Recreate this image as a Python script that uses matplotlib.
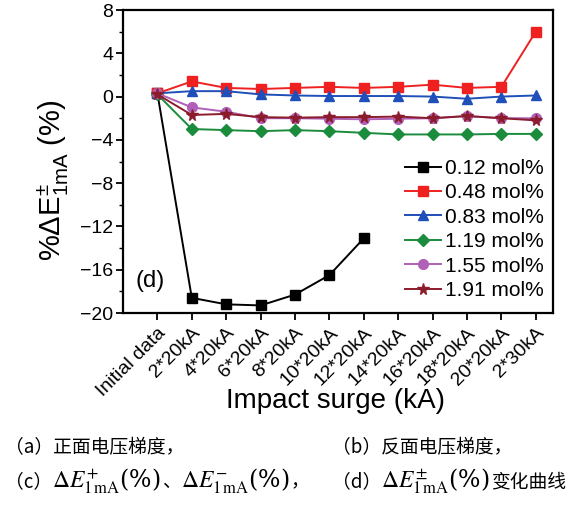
import matplotlib
matplotlib.use("Agg")
import matplotlib.pyplot as plt
import numpy as np
from matplotlib.ticker import MultipleLocator

plt.rcParams['font.family'] = ['Liberation Sans', 'DejaVu Sans']
plt.rcParams['mathtext.fontset'] = 'custom'
plt.rcParams['mathtext.rm'] = 'Liberation Sans'
plt.rcParams['mathtext.it'] = 'Liberation Sans:italic'
plt.rcParams['mathtext.bf'] = 'Liberation Sans:bold'

categories = ["Initial data", "2*20kA", "4*20kA", "6*20kA", "8*20kA", "10*20kA",
              "12*20kA", "14*20kA", "16*20kA", "18*20kA", "20*20kA", "2*30kA"]

s012 = [0.3, -18.6, -19.2, -19.3, -18.3, -16.5, -13.1]
s048 = [0.3, 1.4, 0.8, 0.7, 0.8, 0.9, 0.8, 0.9, 1.1, 0.8, 0.9, 6.0]
s083 = [0.3, 0.5, 0.5, 0.2, 0.1, 0.05, 0.05, 0.05, 0.0, -0.2, 0.0, 0.1]
s119 = [0.2, -3.0, -3.1, -3.2, -3.1, -3.2, -3.35, -3.5, -3.5, -3.5, -3.45, -3.45]
s155 = [0.3, -1.0, -1.4, -2.0, -2.0, -2.05, -2.1, -2.05, -2.0, -1.8, -2.0, -2.0]
s191 = [0.2, -1.7, -1.6, -1.9, -1.95, -1.9, -1.9, -1.85, -2.0, -1.8, -2.0, -2.2]

labels = ["0.12 mol%", "0.48 mol%", "0.83 mol%", "1.19 mol%", "1.55 mol%", "1.91 mol%"]
series = [s012, s048, s083, s119, s155, s191]
colors = ["#000000", "#ee2020", "#1f4fb8", "#1a8c3c", "#b060b8", "#8b1c2c"]
markers = ["s", "s", "^", "D", "o", "*"]
msizes = [6.5, 6.5, 7, 6, 7, 8.5]

W, H = 581, 509
fig = plt.figure(figsize=(W / 100, H / 100), dpi=100)
ax = fig.add_axes([123 / W, 1 - 313 / H, (553 - 123) / W, (313 - 10) / H])

for y, lab, c, m, ms in zip(series, labels, colors, markers, msizes):
    x = np.arange(len(y))
    ax.plot(x, y, color=c, marker=m, markersize=ms, linewidth=1.4, label=lab)

ax.set_xlim(-1, 11.5)
ax.set_ylim(-20, 8)
ax.set_xticks(np.arange(len(categories)))
ax.set_xticklabels(categories, rotation=45, ha='right', rotation_mode='anchor', fontsize=14)
ax.yaxis.set_major_locator(MultipleLocator(4))
ax.yaxis.set_minor_locator(MultipleLocator(2))
ax.tick_params(axis='y', which='major', direction='out', length=5, width=1.3, labelsize=14, pad=2)
ax.tick_params(axis='y', which='minor', direction='out', length=3, width=1.0)
ax.tick_params(axis='x', which='major', direction='out', length=5, width=1.3, pad=3)
for sp in ax.spines.values():
    sp.set_linewidth(1.6)

ax.set_xlabel("Impact surge (kA)", fontsize=20)
ax.xaxis.set_label_coords((335 - 123) / 430, (313 - 408) / 303)
ax.xaxis.label.set_va('baseline')
ax.set_ylabel(r'%$\Delta\mathrm{E}^{\pm}_{1\mathrm{mA}}$ (%)', fontsize=21)
ax.yaxis.set_label_coords((53 - 123) / 430, (313 - 180) / 303)
ax.yaxis.label.set_va('center')

ax.text(0.028, 0.105, "(d)", transform=ax.transAxes, fontsize=17, va='center', ha='left')

ax.legend(loc='lower right', bbox_to_anchor=((544 - 123) / 430, (313 - 300) / 303),
          frameon=False, fontsize=15, handlelength=1.75, handletextpad=0.2,
          labelspacing=0.26, borderaxespad=0.0, borderpad=0.0)

cjk = ['Noto Sans CJK SC', 'DejaVu Sans']
renderer = fig.canvas.get_renderer()

def ptext(x, y, s, **kw):
    t = fig.text(x / W, 1 - y / H, s, va='baseline', ha='left', **kw)
    return t.get_window_extent(renderer=renderer).x1

fs = 13.5
math_kw = dict(fontsize=17, math_fontfamily='stix', family=['DejaVu Serif'])
ptext(5, 453, "（a）正面电压梯度，", family=cjk, fontsize=fs)
ptext(332, 453, "（b）反面电压梯度，", family=cjk, fontsize=fs)
e = ptext(5, 487, "（c）", family=cjk, fontsize=fs)
e = ptext(e, 487, r'$\Delta E^{+}_{1\,\mathrm{mA}}$(%)', **math_kw)
e = ptext(e + 1, 487, "、", family=cjk, fontsize=fs)
e = ptext(e, 487, r'$\Delta E^{-}_{1\,\mathrm{mA}}$(%)', **math_kw)
ptext(e + 1, 487, "，", family=cjk, fontsize=fs)
e = ptext(332, 487, "（d）", family=cjk, fontsize=fs)
e = ptext(e, 487, r'$\Delta E^{\pm}_{1\,\mathrm{mA}}$(%)', **math_kw)
ptext(e + 1, 487, "变化曲线", family=cjk, fontsize=fs)

fig.savefig("out.png", dpi=100)
